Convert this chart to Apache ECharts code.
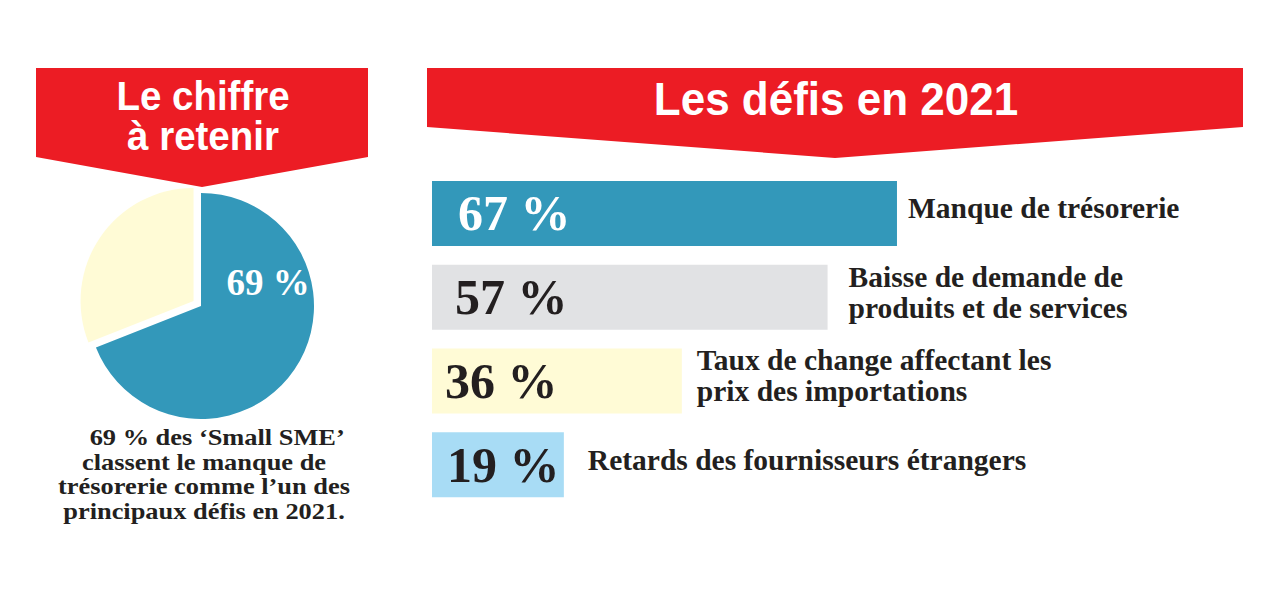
<!DOCTYPE html>
<html>
<head>
<meta charset="utf-8">
<script src="https://cdn.jsdelivr.net/npm/echarts@6/dist/echarts.min.js"></script>
<style>
html,body{margin:0;padding:0;background:#ffffff;}
#chart{width:1280px;height:600px;}
</style>
</head>
<body>
<div id="chart"></div>
<script>
// ---- data ----
const categories = [
  'Manque de trésorerie',
  'Baisse de demande de\nproduits et de services',
  'Taux de change affectant les\nprix des importations',
  'Retards des fournisseurs étrangers'
];
const values = [67, 57, 36, 19];
const pieNames = ['Manque de trésorerie', 'Autres défis'];
const pieValues = [69, 31];
const leftTitle = 'Le chiffre\nà retenir';
const rightTitle = 'Les défis en 2021';
const captionLines = [
  '    69 % des ‘Small SME’',
  'classent le manque de',
  'trésorerie comme l’un des',
  'principaux défis en 2021.'
];

// ---- styles ----
const RED = '#ec1c24';
const SERIF = '"Liberation Serif", "DejaVu Serif", serif';
const SANS = '"Liberation Sans", Arial, sans-serif';
const barColors = ['#3398ba', '#e1e2e4', '#fffbd6', '#a8dcf5'];
const valueColors = ['#ffffff', '#231f20', '#231f20', '#231f20'];
const valueDist = [26, 23, 13, 15];
const nameDist = [11, 21, 15, 24];

const chart = echarts.init(document.getElementById('chart'), null, {renderer: 'svg'});

const option = {
  animation: false,
  backgroundColor: '#ffffff',
  grid: {left: 432, width: 694, top: 171.5, height: 335, containLabel: false},
  xAxis: {type: 'value', min: 0, max: 100, show: false},
  yAxis: {type: 'category', data: categories, inverse: true, show: false},
  graphic: [
    {type: 'polygon', z: 1, shape: {points: [[36,68],[368,68],[368,157],[202,187],[36,157]]}, style: {fill: RED}},
    {type: 'polygon', z: 1, shape: {points: [[427,68],[1243,68],[1243,127],[835,158],[427,127]]}, style: {fill: RED}},
    {type: 'text', z: 5, x: 203, y: 116, scaleX: 1.04, scaleY: 1.08, style: {text: leftTitle, fill: '#ffffff', font: 'bold 37px ' + SANS, align: 'center', verticalAlign: 'middle', lineHeight: 37}},
    {type: 'text', z: 5, x: 836, y: 99, scaleY: 1.06, style: {text: rightTitle, fill: '#ffffff', font: 'bold 44px ' + SANS, align: 'center', verticalAlign: 'middle'}},
    {type: 'text', z: 5, x: 204, y: 474, scaleX: 1.1, style: {text: captionLines.join('\n'), fill: '#231f20', font: 'bold 24px ' + SERIF, align: 'center', verticalAlign: 'middle', lineHeight: 24.5}}
  ],
  series: [
    {
      type: 'bar',
      barWidth: 65,
      data: values.map((v, i) => ({
        value: v,
        itemStyle: {color: barColors[i]},
        label: {color: valueColors[i], distance: valueDist[i]}
      })),
      label: {
        show: true,
        position: 'insideLeft',
        formatter: '{c} %',
        fontFamily: SERIF,
        fontWeight: 'bold',
        fontSize: 50
      },
      emphasis: {disabled: true},
      z: 2
    },
    {
      type: 'bar',
      barWidth: 65,
      barGap: '-100%',
      data: values.map((v, i) => ({
        value: v,
        label: {distance: nameDist[i]}
      })),
      itemStyle: {color: 'rgba(0,0,0,0)'},
      label: {
        show: true,
        position: 'right',
        offset: [0, -5],
        formatter: '{b}',
        color: '#231f20',
        fontFamily: SERIF,
        fontWeight: 'bold',
        fontSize: 29.5,
        lineHeight: 31,
        align: 'left'
      },
      emphasis: {disabled: true},
      z: 3
    },
    {
      type: 'pie',
      center: [201, 306],
      radius: 113,
      startAngle: 90,
      clockwise: true,
      selectedMode: 'single',
      selectedOffset: 9,
      emphasis: {disabled: true},
      labelLine: {show: false},
      label: {
        show: true,
        position: 'inside',
        formatter: '{c} %',
        color: '#ffffff',
        fontFamily: SERIF,
        fontWeight: 'bold',
        fontSize: 37
      },
      labelLayout: function (p) {
        if (p.dataIndex === 0) return {dx: 18, dy: -57};
        return {};
      },
      data: [
        {value: pieValues[0], name: pieNames[0], itemStyle: {color: '#3398ba'}},
        {value: pieValues[1], name: pieNames[1], selected: true, itemStyle: {color: '#fffbd6'}, label: {show: false}}
      ]
    }
  ]
};
chart.setOption(option);
</script>
</body>
</html>
